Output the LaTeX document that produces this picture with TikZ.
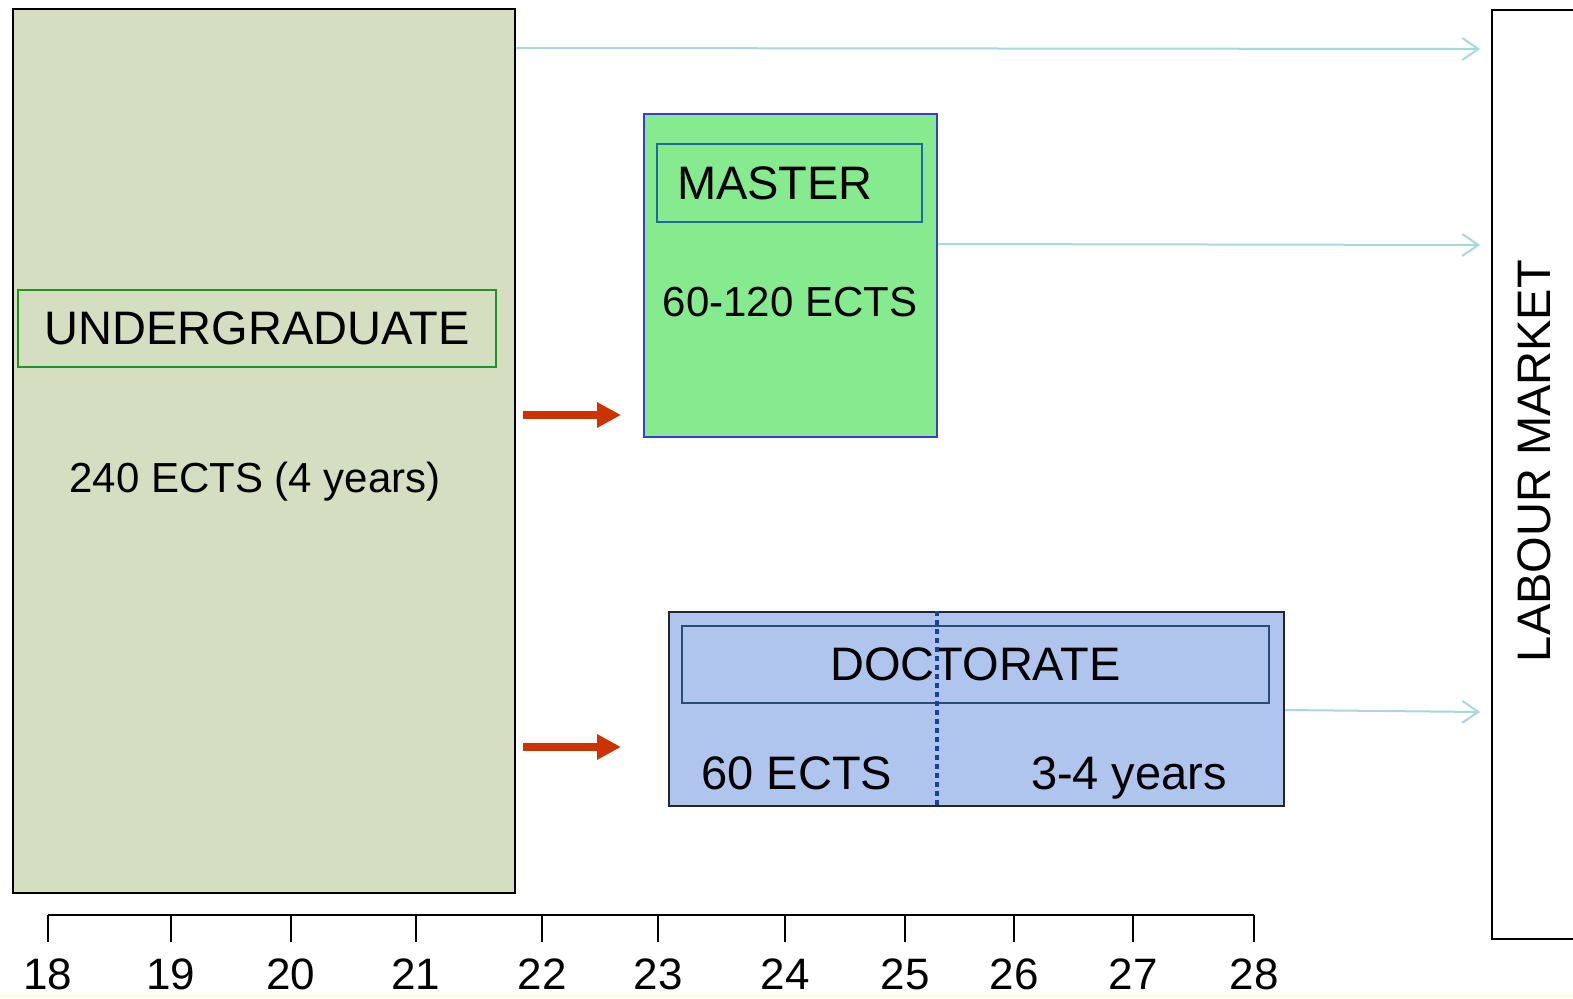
\documentclass[tikz,border=0pt]{standalone}
\usepackage{fontspec}
\setmainfont{Liberation Sans}
\usetikzlibrary{arrows.meta}
\newcommand\myfs[1]{\fontsize{#1}{#1}\selectfont}
\definecolor{ugfill}{RGB}{213,222,192}
\definecolor{uggreen}{RGB}{30,150,30}
\definecolor{msfill}{RGB}{134,234,142}
\definecolor{msblue}{RGB}{59,59,214}
\definecolor{msinner}{RGB}{32,104,160}
\definecolor{dcfill}{RGB}{176,197,238}
\definecolor{dcinner}{RGB}{40,75,120}
\definecolor{dotblue}{RGB}{26,63,160}
\definecolor{redarr}{RGB}{204,51,0}
\definecolor{cyanarr}{RGB}{168,216,220}
\definecolor{strip}{RGB}{253,253,232}
\tikzset{
  box/.style={draw, rectangle, inner sep=0pt},
  lbl/.style={inner sep=0pt, font=\myfs{47}},
  redarrow/.style={redarr, line width=8pt, -{Triangle[length=24pt,width=24pt]}},
  cyanarrow/.style={cyanarr, line width=2pt, -{Straight Barb[length=16pt,width=22pt]}},
}
\begin{document}
\begin{tikzpicture}[x=1pt,y=1pt]
\clip (0,0) rectangle (1573,-998);
\fill[white] (0,0) rectangle (1573,-998);
\fill[strip] (0,-994) rectangle (1573,-998);

% undergraduate
\node[box, fill=ugfill, line width=2pt, minimum width=502pt, minimum height=884pt] (ug) at (264,-451) {};
\node[box, draw=uggreen, line width=1.5pt, minimum width=478pt, minimum height=77pt, font=\myfs{47}] (uglab) at (257,-328.5) {\raisebox{-2pt}{UNDERGRADUATE}};
\node[lbl, font=\myfs{42}, anchor=base] (ugects) at (255,-492) {240 ECTS (4 years)};

% master
\node[box, fill=msfill, draw=msblue, line width=2.5pt, minimum width=293pt, minimum height=323pt] (ms) at (790.5,-275.5) {};
\node[box, draw=msinner, line width=1.5pt, minimum height=78pt, text width=225pt, inner xsep=20pt, align=left, font=\myfs{47}] (mslab) at (789.5,-183) {MASTER};
\node[lbl, font=\myfs{42}] (msects) at (790,-302) {60-120 ECTS};

% doctorate
\node[box, fill=dcfill, draw=black!85, line width=2pt, minimum width=615pt, minimum height=194pt] (dc) at (976.5,-709) {};
\node[box, draw=dcinner, line width=1.5pt, minimum width=587pt, minimum height=77pt, font=\myfs{47}] (dclab) at (975.5,-664.5) {\raisebox{-3pt}{DOCTORATE}};
\node[lbl, anchor=base] (dcects) at (797,-789) {60 ECTS};
\node[lbl, anchor=base] (dcyears) at (1129,-789) {3-4 years};
\coordinate (dl) at (937,0);
\draw[dotblue, line width=4pt, dash pattern=on 5pt off 4pt] (dc.north -| dl) -- (dc.south -| dl);

% labour market
\node[box, line width=2pt, minimum width=120pt, minimum height=929pt, anchor=north west] (lm) at (1491,-9) {};
\node[lbl, rotate=90] (lmtext) at (1534,-461) {LABOUR MARKET};

% red arrows
\coordinate (r1s) at (523,-415); \coordinate (r1e) at (621,-415);
\coordinate (r2s) at (523,-747); \coordinate (r2e) at (621,-747);
\draw[redarrow] (r1s) -- (r1e);
\draw[redarrow] (r2s) -- (r2e);

% cyan arrows to labour market
\coordinate (c1) at (1480,-49);
\coordinate (c2) at (1480,-245);
\coordinate (c3) at (1480,-712);
\draw[cyanarrow] (ug.east |- 0,-48) -- (c1);
\draw[cyanarrow] (ms.east |- 0,-244) -- (c2);
\draw[cyanarrow] (dc.east |- 0,-710) -- (c3);

% axis
\coordinate (ax0) at (48,-915);
\coordinate (ax1) at (1254,-915);
\draw[line width=2.5pt] (ax0) -- (ax1);
\foreach \x/\l in {48/18,171/19,291/20,416/21,542/22,658/23,785/24,905/25,1014/26,1133/27,1254/28}{
  \draw[line width=1.2pt] (\x,-915) -- (\x,-942);
  \node[inner sep=0pt, font=\myfs{44}, anchor=base] (t\l) at (\x,-989) {\l};
}
\end{tikzpicture}
\end{document}
